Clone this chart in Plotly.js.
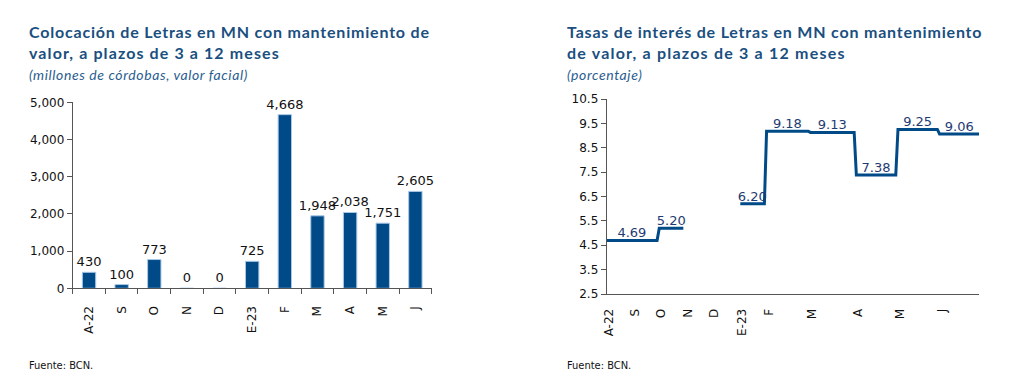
<!DOCTYPE html>
<html>
<head>
<meta charset="utf-8">
<script src="https://cdn.plot.ly/plotly-3.0.1.min.js"></script>
<style>html,body{margin:0;padding:0;background:#fff;}#chart{width:1016px;height:385px;}</style>
</head>
<body>
<div id="chart"></div>
<script>
// ---- data ----
const meses = ['A-22','S','O','N','D','E-23','F','M','A','M','J'];
const colocacion = [430, 100, 773, 0, 0, 725, 4668, 1948, 2038, 1751, 2605];
const tasas = [4.69, 4.69, 5.20, null, null, 6.20, 9.18, 9.13, 7.38, 9.25, 9.06];
const obsPorMes = [12, 12, 12, 12, 13, 12, 20, 21, 19, 19, 19];

// ---- build step series from monthly values ----
const idx = meses.map((m, i) => i);
const inicio = [];
let acc = 0;
obsPorMes.forEach(n => { inicio.push(acc); acc += n; });
const totalObs = acc;
const lx = [], ly = [];
tasas.forEach((v, i) => {
  if (v === null) { lx.push(inicio[i]); ly.push(null); return; }
  lx.push(inicio[i]); ly.push(v);
  lx.push(inicio[i] + obsPorMes[i] - 1); ly.push(v);
});
// one label per run of equal values, centred on the run
const tx = [], ty = [], tt = [];
let i0 = 0;
while (i0 < tasas.length) {
  let i1 = i0;
  while (i1 + 1 < tasas.length && tasas[i1 + 1] === tasas[i0]) i1++;
  if (tasas[i0] !== null) {
    const a = inicio[i0], b = inicio[i1] + obsPorMes[i1] - 1;
    tx.push((a + b) / 2); ty.push(tasas[i0]); tt.push(tasas[i0].toFixed(2));
  }
  i0 = i1 + 1;
}

const azul = '#004b87';
const titulo = '#1a4f80';
const tickFont = {family: 'DejaVu Sans, Verdana, sans-serif', size: 12, color: '#111'};
const sp = (t, ls) => '<span style="letter-spacing:' + ls + 'px">' + t + '</span>';

const traces = [
  {type: 'bar', x: idx, y: colocacion, xaxis: 'x', yaxis: 'y',
   marker: {color: azul, line: {color: '#a9c8e8', width: 1}},
   text: colocacion.map(v => v.toLocaleString('en-US')), textposition: 'outside', constraintext: 'none',
   textfont: {family: 'DejaVu Sans, Verdana, sans-serif', size: 13, color: '#111'},
   cliponaxis: false, hoverinfo: 'skip'},
  {type: 'scatter', mode: 'lines', x: lx, y: ly, xaxis: 'x2', yaxis: 'y2',
   line: {color: azul, width: 3}, connectgaps: false, hoverinfo: 'skip'},
  {type: 'scatter', mode: 'text', x: tx, y: ty, text: tt, textposition: 'top center',
   xaxis: 'x2', yaxis: 'y2', cliponaxis: false,
   textfont: {family: 'DejaVu Sans, Verdana, sans-serif', size: 13, color: '#1f3b73'}, hoverinfo: 'skip'}
];

const W = 1016, H = 385;
const titleFont = {family: 'Lato, sans-serif', size: 16, color: titulo, weight: 'bold'};
const subFont = {family: 'Lato, sans-serif', size: 14, color: '#2a5d8f'};
const layout = {
  width: W, height: H,
  margin: {l: 0, r: 0, t: 0, b: 0},
  paper_bgcolor: '#fff', plot_bgcolor: '#fff',
  showlegend: false,
  bargap: 0.59,
  xaxis: {domain: [72.7 / W, 431.7 / W], anchor: 'y', range: [-0.5, meses.length - 0.5],
    tickmode: 'array', tickvals: idx, ticktext: meses, ticks: '', ticklabelstandoff: 12,
    minor: {ticks: 'outside', tick0: -0.5, dtick: 1, ticklen: 5, tickcolor: '#555', showgrid: false},
    showline: true, linecolor: '#555', linewidth: 1, tickangle: -90, tickfont: tickFont,
    showgrid: false, zeroline: false},
  yaxis: {domain: [1 - 288.3 / H, 1 - 102.3 / H], anchor: 'x', range: [0, 5000], dtick: 1000,
    tickformat: ',', showline: true, linecolor: '#555', linewidth: 1, ticks: 'outside', ticklen: 5,
    tickcolor: '#555', tickfont: tickFont, showgrid: false, zeroline: false},
  xaxis2: {domain: [606.7 / W, 979 / W], anchor: 'y2', range: [0, totalObs - 1],
    tickmode: 'array', tickvals: inicio.map(v => v + 1), ticktext: meses, ticks: '', ticklabelstandoff: 9,
    showline: true, linecolor: '#555', linewidth: 1, tickangle: -90, tickfont: tickFont,
    showgrid: false, zeroline: false},
  yaxis2: {domain: [1 - 294 / H, 1 - 99 / H], anchor: 'x2', range: [2.5, 10.5],
    tickmode: 'array', tickvals: [2.5, 3.5, 4.5, 5.5, 6.5, 7.5, 8.5, 9.5, 10.5], tickformat: '.1f',
    showline: true, linecolor: '#555', linewidth: 1, ticks: 'outside', ticklen: 5, tickcolor: '#555',
    tickfont: tickFont, showgrid: false, zeroline: false},
  annotations: [
    {xref: 'paper', yref: 'paper', x: 27 / W, y: 1 - 20 / H, xanchor: 'left', yanchor: 'top', align: 'left',
     showarrow: false, text: sp('Colocación de Letras en MN con mantenimiento de', 0.8) + '<br>' + sp('valor, a plazos de 3 a 12 meses', 1.1),
     font: titleFont},
    {xref: 'paper', yref: 'paper', x: 27 / W, y: 1 - 64 / H, xanchor: 'left', yanchor: 'top', align: 'left',
     showarrow: false, text: '<i>' + sp('(millones de córdobas, valor facial)', 0.6) + '</i>', font: subFont},
    {xref: 'paper', yref: 'paper', x: 565 / W, y: 1 - 20 / H, xanchor: 'left', yanchor: 'top', align: 'left',
     showarrow: false, text: sp('Tasas de interés de Letras en MN con mantenimiento', 0.8) + '<br>' + sp('de valor, a plazos de 3 a 12 meses', 1.2),
     font: titleFont},
    {xref: 'paper', yref: 'paper', x: 565 / W, y: 1 - 64 / H, xanchor: 'left', yanchor: 'top', align: 'left',
     showarrow: false, text: '<i>' + sp('(porcentaje)', 0.6) + '</i>', font: subFont},
    {xref: 'paper', yref: 'paper', x: 27 / W, y: 1 - 357 / H, xanchor: 'left', yanchor: 'top',
     showarrow: false, text: 'Fuente: BCN.', font: {family: 'DejaVu Sans Condensed, sans-serif', size: 11, color: '#111'}},
    {xref: 'paper', yref: 'paper', x: 565 / W, y: 1 - 357 / H, xanchor: 'left', yanchor: 'top',
     showarrow: false, text: 'Fuente: BCN.', font: {family: 'DejaVu Sans Condensed, sans-serif', size: 11, color: '#111'}}
  ]
};
Plotly.newPlot('chart', traces, layout, {staticPlot: true, displayModeBar: false});
</script>
</body>
</html>
